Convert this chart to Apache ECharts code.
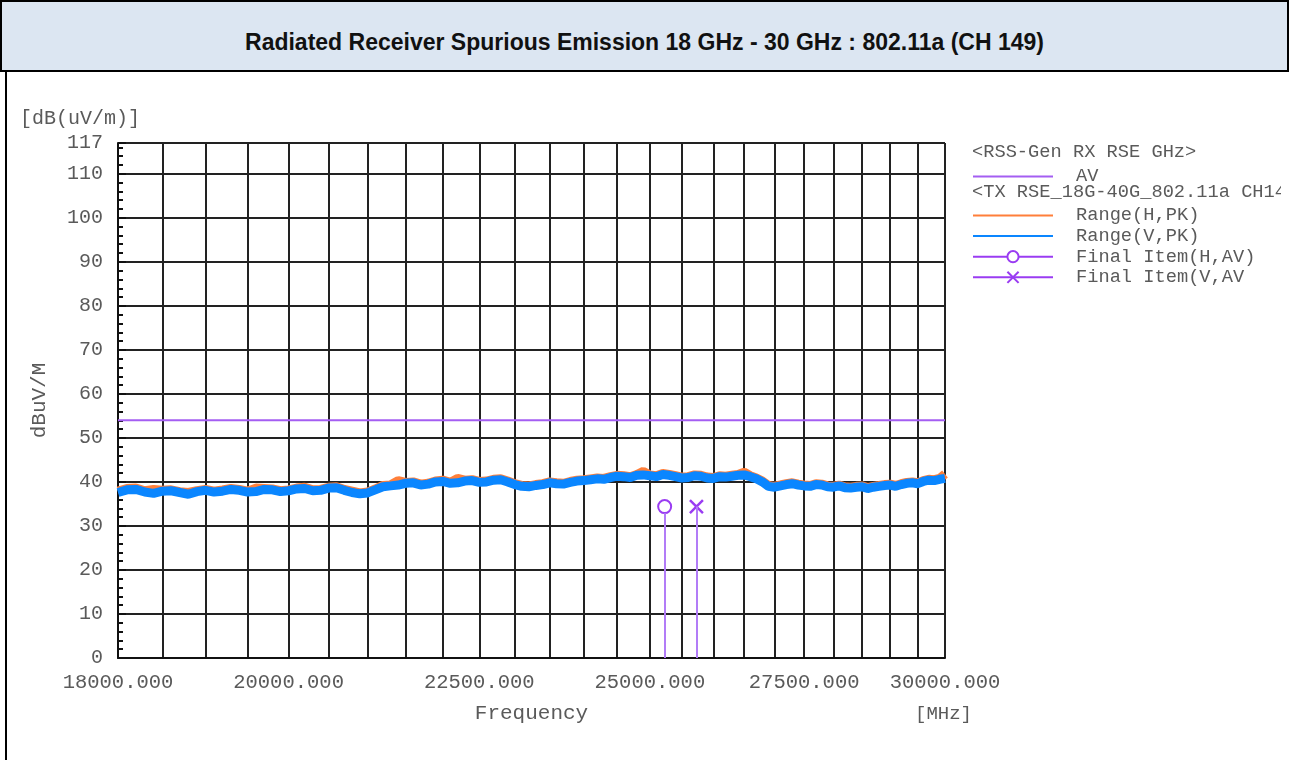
<!DOCTYPE html>
<html>
<head>
<meta charset="utf-8">
<script src="https://cdn.jsdelivr.net/npm/echarts@6/dist/echarts.min.js"></script>
<style>
  body { margin: 0; background: #fff; }
  .hdr {
    position: absolute; left: 0; top: 0; width: 1285px; height: 68px;
    border: 2px solid #000; background: #dce6f2;
    font: bold 23px 'Liberation Sans', Arial, sans-serif; color: #111;
    text-align: center; line-height: 80px;
  }
  .lborder { position: absolute; left: 5px; top: 72px; width: 2px; height: 688px; background: #000; }
  #main { position: absolute; left: 0; top: 0; width: 1281px; height: 760px; }
</style>
</head>
<body>
<div class="hdr">Radiated Receiver Spurious Emission 18 GHz - 30 GHz : 802.11a (CH 149)</div>
<div class="lborder"></div>
<div id="main"></div>
<script>
// sweep points, MHz
const freqs = [18000, 18100, 18200, 18300, 18400, 18500, 18600, 18700, 18800, 18900,
  19000, 19100, 19200, 19300, 19400, 19500, 19600, 19700, 19800, 19900,
  20000, 20100, 20200, 20300, 20400, 20500, 20600, 20700, 20800, 20900,
  21000, 21100, 21200, 21300, 21400, 21500, 21600, 21700, 21800, 21900,
  22000, 22100, 22200, 22300, 22400, 22500, 22600, 22700, 22800, 22900,
  23000, 23100, 23200, 23300, 23400, 23500, 23600, 23700, 23800, 23900,
  24000, 24100, 24200, 24300, 24400, 24500, 24600, 24700, 24800, 24900,
  25000, 25100, 25200, 25300, 25400, 25500, 25600, 25700, 25800, 25900,
  26000, 26100, 26200, 26300, 26400, 26500, 26600, 26700, 26800, 26900,
  27000, 27100, 27200, 27300, 27400, 27500, 27600, 27700, 27800, 27900,
  28000, 28100, 28200, 28300, 28400, 28500, 28600, 28700, 28800, 28900,
  29000, 29100, 29200, 29300, 29400, 29500, 29600, 29700, 29800, 29900, 30000]
// Range(H,PK)
const rangeH = [37.9, 38.5, 38.6, 38.0, 38.3, 38.1, 38.2, 37.8, 37.6, 38.0,
  38.3, 37.9, 38.2, 38.5, 38.3, 37.9, 38.6, 38.5, 38.4, 38.0,
  38.2, 38.6, 38.8, 38.2, 38.3, 38.8, 38.9, 38.3, 37.9, 37.5,
  37.7, 38.4, 39.2, 39.3, 40.3, 39.9, 40.0, 39.5, 39.7, 40.2,
  40.4, 39.9, 40.8, 40.4, 40.5, 40.1, 40.2, 40.6, 40.7, 40.2,
  39.6, 39.2, 39.1, 39.4, 39.6, 40.0, 39.8, 39.7, 40.1, 40.4,
  40.5, 40.7, 40.9, 40.8, 41.2, 41.5, 41.4, 41.2, 41.7, 42.4,
  41.6, 41.4, 41.9, 41.7, 41.4, 41.1, 41.2, 41.6, 41.5, 41.1,
  41.0, 41.4, 41.3, 41.5, 41.7, 42.2, 41.4, 40.9, 40.2, 39.2,
  39.0, 39.3, 39.6, 39.8, 39.5, 39.3, 39.2, 39.6, 39.5, 39.1,
  39.0, 39.3, 38.9, 38.8, 39.0, 39.1, 38.7, 39.0, 39.2, 39.4,
  39.5, 39.2, 39.6, 39.9, 40.0, 39.8, 40.3, 40.6, 40.5, 40.8, 41.8]
// Range(V,PK)
const rangeV = [37.6, 38.2, 38.3, 37.7, 37.4, 37.9, 38.0, 37.6, 37.2, 37.8,
  38.1, 37.7, 37.9, 38.3, 38.1, 37.7, 37.8, 38.3, 38.2, 37.8,
  38.0, 38.4, 38.5, 38.0, 38.1, 38.6, 38.7, 38.1, 37.6, 37.3,
  37.5, 38.2, 38.9, 39.1, 39.3, 39.7, 39.8, 39.3, 39.5, 40.0,
  40.1, 39.7, 39.8, 40.2, 40.3, 39.9, 40.0, 40.4, 40.5, 40.0,
  39.4, 39.0, 38.9, 39.2, 39.4, 39.8, 39.6, 39.5, 39.9, 40.2,
  40.3, 40.5, 40.7, 40.6, 41.0, 41.3, 41.2, 41.0, 41.5, 41.6,
  41.4, 41.2, 41.7, 41.5, 41.2, 40.9, 41.0, 41.4, 41.3, 40.9,
  40.8, 41.2, 41.1, 41.3, 41.5, 41.6, 41.2, 40.7, 40.0, 39.0,
  38.8, 39.1, 39.4, 39.6, 39.3, 39.1, 39.0, 39.4, 39.3, 38.9,
  38.8, 39.1, 38.7, 38.6, 38.8, 38.9, 38.5, 38.8, 39.0, 39.2,
  39.3, 39.0, 39.4, 39.7, 39.8, 39.6, 40.1, 40.4, 40.3, 40.6, 40.8]
const limitAV = 54
const finalH = [25230, 34.4]
const finalV = [25730, 34.4]

const gridFreqs = [18000, 18500, 19000, 19500, 20000, 20500, 21000, 21500, 22000, 22500,
  23000, 23500, 24000, 24500, 25000, 25500, 26000, 26500, 27000, 27500,
  28000, 28500, 29000, 29500, 30000]
const labelFreqs = [18000, 20000, 22500, 25000, 27500, 30000]

const mono = "'Liberation Mono', 'DejaVu Sans Mono', monospace"
const txt = '#5a5a5a'
const purple = '#9a3cf2'
const noSymbol = { color: 'transparent', borderWidth: 0 }

let chart = echarts.init(document.getElementById('main'))
chart.setOption({
  animation: false,
  grid: { left: 118, right: 336, top: 143, bottom: 102 },
  xAxis: {
    type: 'log',
    min: 18000,
    max: 30000,
    name: 'Frequency',
    nameLocation: 'middle',
    nameGap: 45,
    nameTextStyle: { fontFamily: mono, fontSize: 21, color: txt },
    axisLine: { lineStyle: { color: '#111', width: 2 } },
    axisTick: { show: false, customValues: gridFreqs },
    axisLabel: {
      customValues: labelFreqs,
      formatter: v => Number(v).toFixed(3),
      margin: 14,
      fontFamily: mono, fontSize: 20.5, color: txt
    },
    splitLine: { show: true, lineStyle: { color: '#222', width: 2 } }
  },
  yAxis: {
    type: 'value',
    min: 0,
    max: 117,
    interval: 10,
    name: 'dBuV/M',
    nameLocation: 'middle',
    nameRotate: 90,
    nameGap: 68,
    nameTextStyle: { fontFamily: mono, fontSize: 21, color: txt },
    axisLine: { show: true, lineStyle: { color: '#111', width: 2 } },
    axisTick: { show: true, inside: true, length: 8, lineStyle: { color: '#111', width: 2 } },
    minorTick: { show: true, splitNumber: 5, length: 5, lineStyle: { color: '#111', width: 2 } },
    axisLabel: { margin: 15, fontFamily: mono, fontSize: 20, color: txt },
    splitLine: { show: true, lineStyle: { color: '#222', width: 2 } }
  },
  legend: [
    {
      data: [{ name: 'AV', itemStyle: noSymbol }],
      orient: 'vertical',
      left: 972, top: 167,
      padding: 0,
      itemWidth: 80, itemHeight: 14,
      selectedMode: false,
      lineStyle: { width: 2 },
      textStyle: { fontFamily: mono, fontSize: 18.7, color: txt, lineHeight: 14, padding: [0, 0, 0, 18] }
    },
    {
      data: [
        { name: 'Range(H,PK)', itemStyle: noSymbol },
        { name: 'Range(V,PK)', itemStyle: noSymbol },
        'Final Item(H,AV)',
        'Final Item(V,AV'
      ],
      orient: 'vertical',
      left: 972, top: 206,
      padding: 0,
      itemWidth: 80, itemHeight: 14, itemGap: 1.6,
      selectedMode: false,
      lineStyle: { width: 2 },
      textStyle: { fontFamily: mono, fontSize: 18.7, color: txt, lineHeight: 14, padding: [0, 0, 0, 18] }
    }
  ],
  graphic: [
    { type: 'text', left: 20, top: 109, style: { text: '[dB(uV/m)]', font: '20px ' + mono, fill: txt } },
    { type: 'text', left: 915, top: 704, style: { text: '[MHz]', font: '19px ' + mono, fill: txt } },
    { type: 'text', left: 972, top: 143, style: { text: '<RSS-Gen RX RSE GHz>', font: '18.7px ' + mono, fill: txt } },
    { type: 'text', left: 972, top: 183, style: { text: '<TX RSE_18G-40G_802.11a CH149>', font: '18.7px ' + mono, fill: txt } }
  ],
  series: [
    {
      name: 'AV',
      type: 'line',
      symbol: 'none',
      color: '#a45ef2',
      lineStyle: { width: 2 },
      data: [[18000, limitAV], [30000, limitAV]]
    },
    {
      name: 'Range(H,PK)',
      type: 'line',
      symbol: 'none',
      color: '#ff7f3a',
      lineStyle: { width: 9 },
      data: freqs.map((f, i) => [f, rangeH[i]])
    },
    {
      name: 'Range(V,PK)',
      type: 'line',
      symbol: 'none',
      color: '#0a86ff',
      lineStyle: { width: 9 },
      data: freqs.map((f, i) => [f, rangeV[i]])
    },
    {
      name: 'Final Item(H,AV)',
      type: 'line',
      symbol: 'emptyCircle',
      symbolSize: 13,
      color: purple,
      itemStyle: { borderWidth: 2 },
      lineStyle: { width: 2 },
      data: [finalH],
      markLine: {
        silent: true,
        symbol: 'none',
        label: { show: false },
        lineStyle: { color: '#b27cf7', width: 2, type: 'solid' },
        data: [[{ coord: [finalH[0], 0] }, { coord: [finalH[0], finalH[1] - 1.5] }]]
      }
    },
    {
      name: 'Final Item(V,AV',
      type: 'line',
      symbol: 'path://M0,0L10,10M10,0L0,10',
      symbolSize: 13,
      color: purple,
      itemStyle: { color: 'transparent', borderColor: purple, borderWidth: 2.5 },
      lineStyle: { color: purple, width: 2 },
      data: [finalV],
      markLine: {
        silent: true,
        symbol: 'none',
        label: { show: false },
        lineStyle: { color: '#b27cf7', width: 2, type: 'solid' },
        data: [[{ coord: [finalV[0], 0] }, { coord: [finalV[0], finalV[1]] }]]
      }
    }
  ]
})
</script>
</body>
</html>
